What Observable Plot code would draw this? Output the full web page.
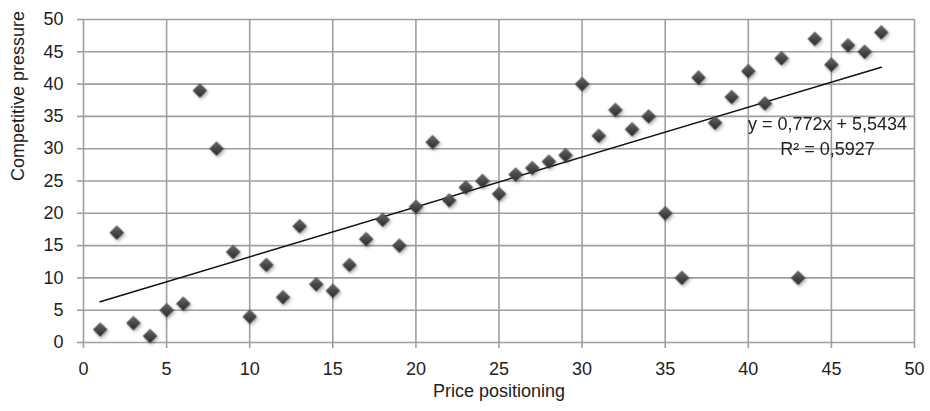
<!DOCTYPE html>
<html>
<head>
<meta charset="utf-8">
<script src="https://cdn.jsdelivr.net/npm/d3@7"></script>
<script src="https://cdn.jsdelivr.net/npm/@observablehq/plot@0.6"></script>
<style>
  html, body { margin: 0; padding: 0; background: #fff; }
  #chart svg { font-family: "Liberation Sans", Arial, sans-serif; }
</style>
</head>
<body>
<div id="chart"></div>
<script>
// Data
const pricePositioning = [1,2,3,4,5,6,7,8,9,10,11,12,13,14,15,16,17,18,19,20,21,22,23,24,25,26,27,28,29,30,31,32,33,34,35,36,37,38,39,40,41,42,43,44,45,46,47,48];
const competitivePressure = [2,17,3,1,5,6,39,30,14,4,12,7,18,9,8,12,16,19,15,21,31,22,24,25,23,26,27,28,29,40,32,36,33,35,20,10,41,34,38,42,37,44,10,47,43,46,45,48];
const tickValues = [0,5,10,15,20,25,30,35,40,45,50];
const xLabel = "Price positioning";
const yLabel = "Competitive pressure";
const equationText = "y = 0,772x + 5,5434";
const r2Text = "R² = 0,5927";

const data = pricePositioning.map((x, i) => ({x, y: competitivePressure[i]}));

const gridColor = "#9e9e9e";

const chart = Plot.plot({
  width: 930,
  height: 411,
  marginLeft: 83,
  marginRight: 16,
  marginTop: 19,
  marginBottom: 69,
  style: {fontSize: "18px", fontFamily: "'Liberation Sans', Arial, sans-serif", color: "#222"},
  x: {domain: [0, 50], ticks: tickValues},
  y: {domain: [0, 50], ticks: tickValues},
  marks: [
    Plot.gridX(tickValues, {stroke: gridColor, strokeOpacity: 1, strokeWidth: 1.6}),
    Plot.gridY(tickValues, {stroke: gridColor, strokeOpacity: 1, strokeWidth: 1.6}),
    Plot.axisX({ticks: tickValues, tickSize: 6, tickPadding: 14, stroke: gridColor, strokeWidth: 1.6, label: null, fill: "#222"}),
    Plot.axisY({ticks: tickValues, tickSize: 6, tickPadding: 14, stroke: gridColor, strokeWidth: 1.6, label: null, fill: "#222"}),
    Plot.linearRegressionY(data, {x: "x", y: "y", ci: 0, stroke: "#111", strokeWidth: 1.5}),
    Plot.dot(data, {x: "x", y: "y", symbol: "diamond2", r: 6.2, fill: "url(#diamondGrad)", stroke: "#2a2c30", strokeWidth: 0.6, className: "diamonds"}),
    Plot.text([equationText + "\n" + r2Text], {frameAnchor: "top-right", dx: -87, dy: 93, textAnchor: "middle", lineAnchor: "top", lineHeight: 1.39, fontSize: 18, fill: "#222"}),
    Plot.text([xLabel], {frameAnchor: "bottom", dy: 48.5, lineAnchor: "middle", fontSize: 18, fill: "#222"}),
    Plot.text([yLabel], {frameAnchor: "left", dx: -65.5, rotate: -90, lineAnchor: "middle", fontSize: 18, fill: "#222"})
  ]
});

const svg = d3.select(chart);
const defs = svg.insert("defs", ":first-child");
const grad = defs.append("linearGradient").attr("id", "diamondGrad")
  .attr("x1", "0").attr("y1", "0").attr("x2", "0").attr("y2", "1");
grad.append("stop").attr("offset", "0%").attr("stop-color", "#686b70");
grad.append("stop").attr("offset", "50%").attr("stop-color", "#46484c");
grad.append("stop").attr("offset", "100%").attr("stop-color", "#2a2c30");
const filt = defs.append("filter").attr("id", "dropShadow")
  .attr("x", "-50%").attr("y", "-50%").attr("width", "200%").attr("height", "200%");
filt.append("feDropShadow").attr("dx", 1.5).attr("dy", 2).attr("stdDeviation", 1.5)
  .attr("flood-color", "#000").attr("flood-opacity", 0.3);
svg.selectAll("g.diamonds").attr("filter", "url(#dropShadow)");

document.getElementById("chart").appendChild(chart);
</script>
</body>
</html>
